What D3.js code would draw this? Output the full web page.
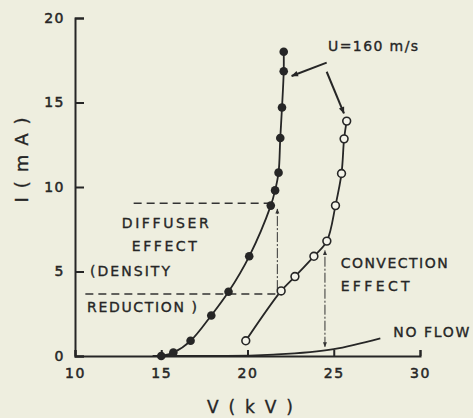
<!DOCTYPE html>
<html>
<head>
<meta charset="utf-8">
<title>I-V curves</title>
<script src="https://cdn.jsdelivr.net/npm/d3@7/dist/d3.min.js"></script>
<style>
  html, body { margin: 0; padding: 0; background: #eeeedf; }
  svg { display: block; }
  text { font-family: "DejaVu Sans", sans-serif; fill: #262626; stroke: #262626; stroke-width: 0.35px; }
  .axis path, .axis line { stroke: #262626; stroke-width: 2; }
  .axis text { font-size: 14px; letter-spacing: 1.5px; stroke-width: 0.5px; }
</style>
</head>
<body>
<div id="chart"></div>
<script>
// values
var xTicks = [10, 15, 20, 25, 30];
var yTicks = [0, 5, 10, 15, 20];

// U = 160 m/s, filled dots
var filledV = [15.0, 15.7, 16.7, 17.9, 18.9, 20.1, 21.35, 21.6, 21.8, 21.9, 22.0, 22.1, 22.1];
var filledI = [0, 0.2, 0.9, 2.4, 3.8, 5.9, 8.9, 9.8, 10.85, 12.9, 14.7, 16.85, 18.0];

// U = 160 m/s, open dots
var openV = [19.9, 21.95, 22.75, 23.85, 24.6, 25.1, 25.45, 25.6, 25.75];
var openI = [0.9, 3.85, 4.7, 5.9, 6.8, 8.9, 10.8, 12.85, 13.9];

// no flow
var noFlowV = [14.5, 18.8, 21.5, 25.0, 27.7];
var noFlowI = [0, 0, 0.08, 0.41, 1.05];

var W = 473, H = 418;
var x = d3.scaleLinear().domain([10, 30]).range([75, 420]);
var y = d3.scaleLinear().domain([0, 20]).range([356, 18]);

var svg = d3.select('#chart').append('svg')
  .attr('width', W).attr('height', H);

svg.append('rect').attr('width', W).attr('height', H).attr('fill', '#eeeedf');

var defs = svg.append('defs');
defs.append('marker').attr('id', 'head')
  .attr('viewBox', '0 0 10 10').attr('refX', 9).attr('refY', 5)
  .attr('markerWidth', 9).attr('markerHeight', 7)
  .attr('markerUnits', 'userSpaceOnUse')
  .attr('orient', 'auto-start-reverse')
  .append('path').attr('d', 'M0,1 L10,5 L0,9 z').attr('fill', '#262626');
defs.append('marker').attr('id', 'small')
  .attr('viewBox', '0 0 10 10').attr('refX', 9).attr('refY', 5)
  .attr('markerWidth', 7).attr('markerHeight', 5)
  .attr('markerUnits', 'userSpaceOnUse')
  .attr('orient', 'auto-start-reverse')
  .append('path').attr('d', 'M0,1 L10,5 L0,9 z').attr('fill', '#333');

// axes, ticks pointing inwards
svg.append('g').attr('class', 'axis')
  .attr('transform', 'translate(' + x(10) + ',0)')
  .call(d3.axisLeft(y).tickValues(yTicks).tickSize(-9).tickSizeOuter(-9).tickPadding(10));

svg.append('g').attr('class', 'axis')
  .attr('transform', 'translate(0,' + y(0) + ')')
  .call(d3.axisBottom(x).tickValues(xTicks).tickSize(-6).tickSizeOuter(-6).tickPadding(12));

// axis titles
svg.append('text')
  .attr('x', 250).attr('y', 413)
  .attr('text-anchor', 'middle')
  .attr('textLength', 86).attr('lengthAdjust', 'spacing')
  .style('font-size', '17px')
  .text('V ( k V )');

svg.append('text')
  .attr('transform', 'translate(28,160) rotate(-90)')
  .attr('text-anchor', 'middle')
  .attr('textLength', 85).attr('lengthAdjust', 'spacing')
  .style('font-size', '18px')
  .text('I ( m A )');

function pts(vs, is) {
  return vs.map(function(v, i) { return [v, is[i]]; });
}
var line = d3.line()
  .x(function(d) { return x(d[0]); })
  .y(function(d) { return y(d[1]); })
  .curve(d3.curveCatmullRom.alpha(0.5));

// dashed construction lines
var dash = svg.append('g').attr('fill', 'none').attr('stroke', '#333');
dash.append('line')
  .attr('x1', x(13.4)).attr('x2', x(21.4)).attr('y1', y(9.04)).attr('y2', y(9.04))
  .attr('stroke-width', 1.4).attr('stroke-dasharray', '8,5');
dash.append('line')
  .attr('x1', x(10.6)).attr('x2', x(21.75)).attr('y1', y(3.67)).attr('y2', y(3.67))
  .attr('stroke-width', 1.4).attr('stroke-dasharray', '8,5');
dash.append('line')
  .attr('x1', x(21.73)).attr('x2', x(21.73)).attr('y1', y(3.9)).attr('y2', y(8.7))
  .attr('stroke-width', 1).attr('stroke-dasharray', '10,2,2,2')
  .attr('marker-end', 'url(#small)');
dash.append('line')
  .attr('x1', x(24.49)).attr('x2', x(24.49)).attr('y1', y(0.55)).attr('y2', y(6.25))
  .attr('stroke-width', 1).attr('stroke-dasharray', '10,2,2,2')
  .attr('marker-start', 'url(#small)').attr('marker-end', 'url(#small)');

// curves
var curves = svg.append('g').attr('fill', 'none').attr('stroke', '#262626').attr('stroke-width', 1.8);
curves.append('path').attr('d', line.curve(d3.curveMonotoneX)(pts(noFlowV, noFlowI)));
curves.append('path').attr('d', line.curve(d3.curveCatmullRom.alpha(0.5))(pts(filledV, filledI)));
curves.append('path').attr('d', line(pts(openV, openI)));

// dots
svg.append('g').selectAll('circle')
  .data(pts(filledV, filledI)).enter().append('circle')
  .attr('cx', function(d) { return x(d[0]); })
  .attr('cy', function(d) { return y(d[1]); })
  .attr('r', 4.3).attr('fill', '#262626');

svg.append('g').selectAll('circle')
  .data(pts(openV, openI)).enter().append('circle')
  .attr('cx', function(d) { return x(d[0]); })
  .attr('cy', function(d) { return y(d[1]); })
  .attr('r', 3.9).attr('fill', '#f4f4ea').attr('stroke', '#262626').attr('stroke-width', 1.6);

// pointers from the U label
var ptr = svg.append('g').attr('stroke', '#262626').attr('stroke-width', 2);
ptr.append('line')
  .attr('x1', x(24.59)).attr('y1', y(17.36)).attr('x2', x(22.56)).attr('y2', y(16.57))
  .attr('marker-end', 'url(#head)');
ptr.append('line')
  .attr('x1', x(24.59)).attr('y1', y(16.82)).attr('x2', x(25.59)).attr('y2', y(14.36))
  .attr('marker-end', 'url(#head)');

// annotations: text, V, I, width
var notes = [
  ['U=160 m/s', 24.67, 18.06, 90],
  ['DIFFUSER', 12.71, 7.56, 87],
  ['EFFECT', 13.29, 6.23, 65],
  ['(DENSITY', 10.87, 4.76, 80],
  ['REDUCTION )', 10.7, 2.62, 110],
  ['CONVECTION', 25.4, 5.19, 107],
  ['EFFECT', 25.4, 3.86, 69],
  ['NO FLOW', 28.45, 1.1, 76]
];
svg.append('g').selectAll('text')
  .data(notes).enter().append('text')
  .attr('x', function(d) { return x(d[1]); })
  .attr('y', function(d) { return y(d[2]); })
  .attr('textLength', function(d) { return d[3]; })
  .attr('lengthAdjust', 'spacing')
  .style('font-size', '14px')
  .text(function(d) { return d[0]; });
</script>
</body>
</html>
